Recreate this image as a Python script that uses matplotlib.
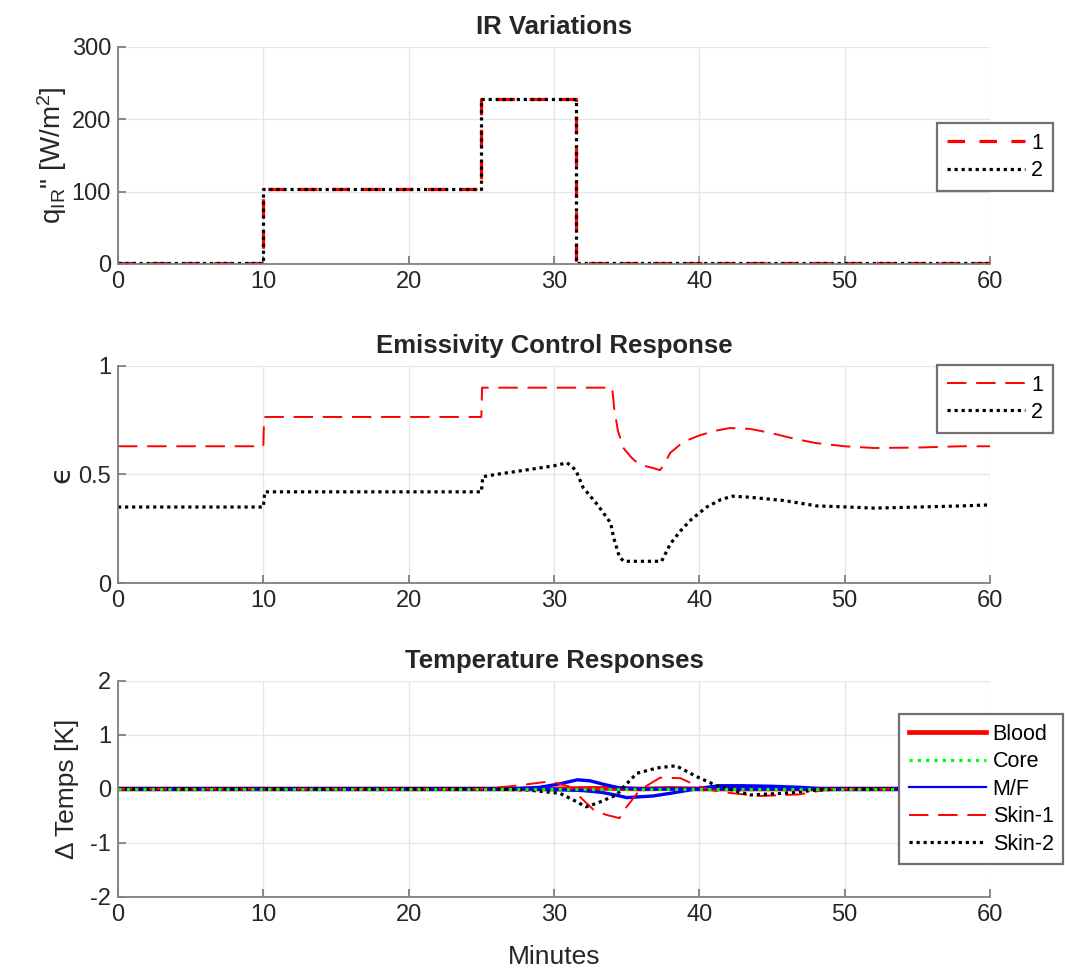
import matplotlib
matplotlib.use('Agg')
import matplotlib.pyplot as plt
from matplotlib.lines import Line2D

plt.rcParams['font.family'] = ['Liberation Sans', 'DejaVu Sans']
plt.rcParams['mathtext.fontset'] = 'custom'
plt.rcParams['mathtext.rm'] = 'Liberation Sans'
plt.rcParams['mathtext.it'] = 'Liberation Sans:italic'
plt.rcParams['axes.unicode_minus'] = False

# IR flux steps (minutes, W/m^2)
t_ir = [0, 10, 25, 31.5, 60]
q_ir1 = [2, 103, 228, 2, 2]
q_ir2 = [2, 103, 228, 2, 2]

# emissivity response
t_eps1 = [0, 10, 10.05, 25, 25.05, 34.0, 34.15, 34.4, 34.8, 35.3, 35.7, 36.2, 36.8, 37.3, 37.6,
          38.0, 38.9, 40.0, 41.0, 42.1, 43.5, 45.0, 46.5, 48.0, 50.0, 52.0, 55.0, 58.0, 60.0]
eps1 = [0.63, 0.63, 0.765, 0.765, 0.90, 0.90, 0.80, 0.70, 0.62, 0.58, 0.555, 0.54, 0.53, 0.52, 0.55,
        0.60, 0.65, 0.68, 0.70, 0.714, 0.71, 0.69, 0.665, 0.645, 0.63, 0.622, 0.624, 0.63, 0.63]
t_eps2 = [0, 10, 10.1, 25, 25.1, 26, 28, 30, 30.9, 31.5, 32.0, 33.0, 33.9, 34.1, 34.5, 34.8, 36,
          37.4, 38.0, 38.7, 39.4, 40.5, 41.5, 42.3, 43.5, 45.8, 48.1, 50.3, 52, 55, 58, 60]
eps2 = [0.35, 0.35, 0.42, 0.42, 0.49, 0.50, 0.52, 0.54, 0.554, 0.52, 0.44, 0.36, 0.276, 0.21, 0.12,
        0.10, 0.10, 0.10, 0.18, 0.24, 0.29, 0.35, 0.385, 0.40, 0.395, 0.38, 0.355, 0.35, 0.345, 0.35,
        0.355, 0.36]

# temperature responses
t_blood = [0, 30, 32, 34, 36, 38, 40, 60]
blood = [0, 0, 0.01, 0.01, 0.0, 0.01, 0, 0]
t_core = [0, 30, 32, 34, 36, 38, 40, 60]
core = [0, 0, 0.0, 0.0, 0.0, 0.0, 0, 0]
t_mf1 = [0, 27, 29, 30.5, 31.6, 32.5, 33.5, 34.5, 36, 38, 60]
mf1 = [0, 0, 0.03, 0.1, 0.17, 0.15, 0.08, 0.02, 0.0, 0.0, 0]
t_mf2 = [0, 28, 30, 32, 33.2, 34.2, 35.0, 36.8, 38, 39.1, 40.2, 41.4, 43, 45, 47, 48.5, 60]
mf2 = [0, 0, -0.01, -0.03, -0.06, -0.11, -0.16, -0.13, -0.08, -0.03, 0.02, 0.06, 0.06, 0.05, 0.03, 0, 0]
t_skin1 = [0, 25, 27.4, 29.7, 31.0, 31.8, 32.7, 33.6, 34.5, 35.0, 35.9, 37.3, 38.7, 39.8, 41.0, 42.3,
           44.2, 46.9, 49, 60]
skin1 = [0, 0, 0.06, 0.14, 0.05, -0.15, -0.38, -0.48, -0.54, -0.33, -0.02, 0.21, 0.2, 0.06, -0.03,
         -0.08, -0.13, -0.1, 0, 0]
t_skin2 = [0, 26, 28.2, 30.4, 31.3, 32.2, 32.9, 34.3, 34.8, 35.7, 37.1, 38.4, 39.8, 41.2, 43.5, 45.8,
           48.1, 50, 60]
skin2 = [0, 0, -0.02, -0.08, -0.2, -0.33, -0.27, -0.11, 0.04, 0.29, 0.39, 0.43, 0.23, 0.06, -0.11,
         -0.08, -0.02, 0, 0]

text_c = '#262626'
spine_c = '#808080'
grid_c = '#e6e6e6'
dash = (0, (10, 5))
dot = (0, (1, 1.2))

fig = plt.figure(figsize=(10.65, 9.72), dpi=100)
ax1 = fig.add_axes([0.1108, 0.7284, 0.8188, 0.2233])
ax2 = fig.add_axes([0.1108, 0.4002, 0.8188, 0.2233])
ax3 = fig.add_axes([0.1108, 0.0772, 0.8188, 0.2222])


def style(ax):
    ax.set_xlim(0, 60)
    ax.set_xticks([0, 10, 20, 30, 40, 50, 60])
    ax.grid(True, color=grid_c, lw=1)
    ax.set_axisbelow(True)
    for s in ['top', 'right']:
        ax.spines[s].set_visible(False)
    for s in ['left', 'bottom']:
        ax.spines[s].set_color(spine_c)
        ax.spines[s].set_linewidth(1.3)
    ax.tick_params(direction='in', length=6, width=1.3, color=spine_c,
                   labelcolor=text_c, labelsize=17, pad=5)


leg_kw = dict(loc='upper right', fontsize=15.5, handlelength=3.6, framealpha=1,
              fancybox=False, edgecolor='#707070', borderaxespad=0, labelspacing=0.3,
              handletextpad=0.3, borderpad=0.45)
title_kw = dict(fontsize=18.5, fontweight='bold', color=text_c, pad=9)

# top
ax1.step(t_ir, q_ir1, where='post', color='red', ls=(0, (5.5, 4.5)), lw=2.3, label='1')
ax1.step(t_ir, q_ir2, where='post', color='black', ls=dot, lw=2.3, label='2')
style(ax1)
ax1.set_ylim(0, 300)
ax1.set_yticks([0, 100, 200, 300])
ax1.set_title('IR Variations', **title_kw)
ax1.set_ylabel('q$_{\\rm IR}$" [W/m$^2$]', fontsize=20, color=text_c, labelpad=2)
lg = ax1.legend(bbox_to_anchor=(1.072, 0.65), **leg_kw)
lg.get_frame().set_linewidth(1.6)

# middle
ax2.plot(t_eps1, eps1, color='red', ls=dash, lw=1.4, label='1')
ax2.plot(t_eps2, eps2, color='black', ls=dot, lw=2.3, label='2')
style(ax2)
ax2.set_ylim(0, 1)
ax2.set_yticks([0, 0.5, 1])
ax2.set_yticklabels(['0', '0.5', '1'])
ax2.set_title('Emissivity Control Response', **title_kw)
ax2.set_ylabel('ϵ', fontsize=21, color=text_c, labelpad=2, family=['DejaVu Sans'])
lg = ax2.legend(bbox_to_anchor=(1.072, 1.005), **leg_kw)
lg.get_frame().set_linewidth(1.6)

# bottom
ax3.plot(t_blood, blood, color='red', lw=3.4)
ax3.plot(t_mf1, mf1, color='blue', lw=2.4)
ax3.plot(t_mf2, mf2, color='blue', lw=2.4)
ax3.plot(t_skin1, skin1, color='red', ls=dash, lw=1.4)
ax3.plot(t_skin2, skin2, color='black', ls=dot, lw=2.3)
ax3.plot(t_core, core, color='#00ff00', ls=(0, (1, 1.6)), lw=2.3)
style(ax3)
ax3.set_ylim(-2, 2)
ax3.set_yticks([-2, -1, 0, 1, 2])
ax3.set_title('Temperature Responses', **title_kw)
ax3.set_ylabel('Δ Temps [K]', fontsize=19, color=text_c, labelpad=8)
ax3.set_xlabel('Minutes', fontsize=19, color=text_c, labelpad=14)
leg_handles = [Line2D([], [], color='red', lw=3.4),
               Line2D([], [], color='#00ff00', ls=(0, (1, 1.6)), lw=2.3),
               Line2D([], [], color='blue', lw=1.6),
               Line2D([], [], color='red', ls=dash, lw=1.4),
               Line2D([], [], color='black', ls=dot, lw=2.3)]
lg = ax3.legend(leg_handles, ['Blood', 'Core', 'M/F', 'Skin-1', 'Skin-2'],
                bbox_to_anchor=(1.084, 0.847), **leg_kw)
lg.get_frame().set_linewidth(1.6)

fig.savefig('out.png', dpi=100)
